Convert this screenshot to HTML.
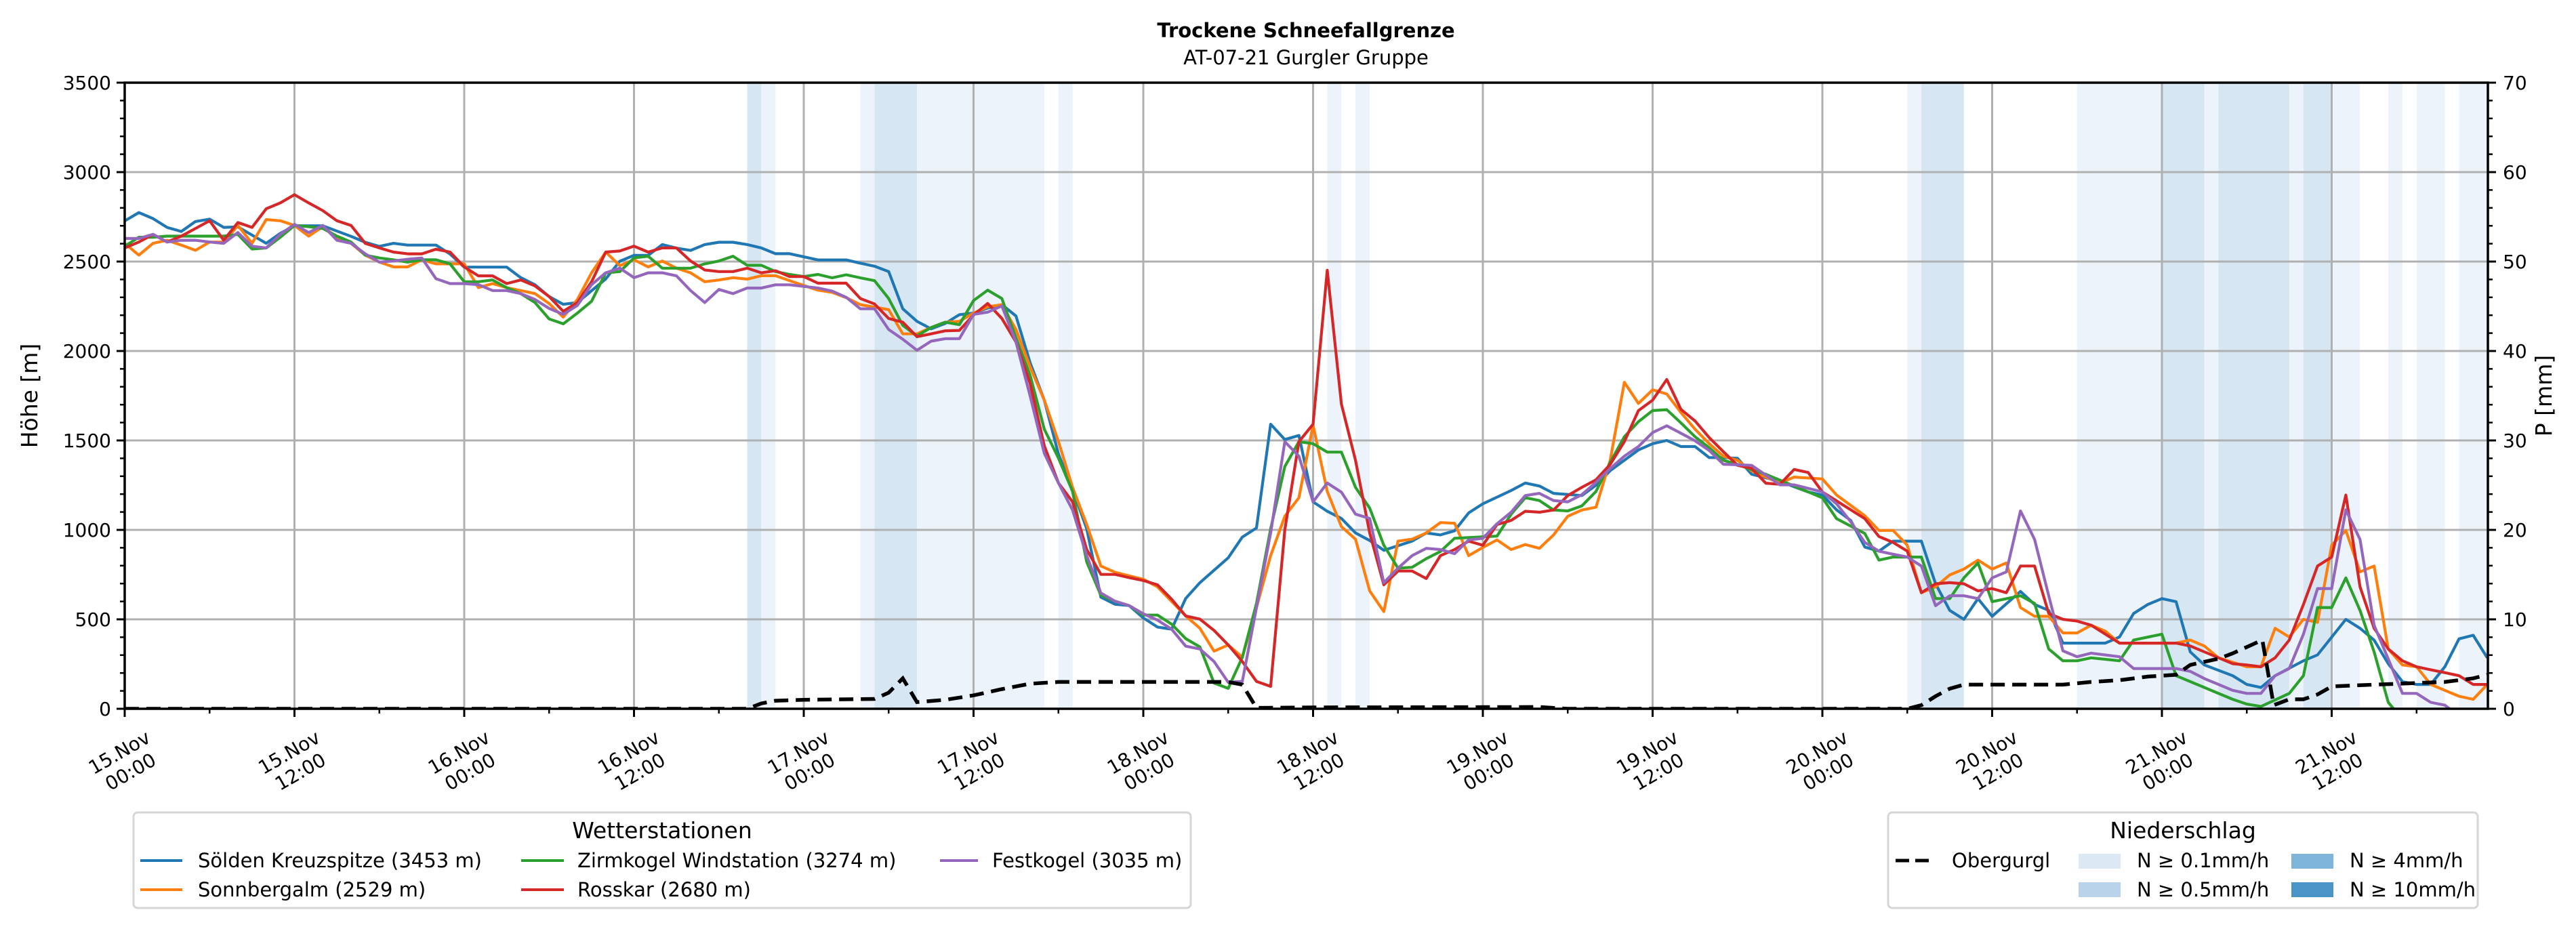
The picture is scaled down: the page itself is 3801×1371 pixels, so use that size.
<!DOCTYPE html>
<html><head><meta charset="utf-8"><title>Trockene Schneefallgrenze</title>
<style>
html,body{margin:0;padding:0;background:#fff;}
svg{display:block;font-family:"DejaVu Sans","Liberation Sans",sans-serif;}
</style></head>
<body>
<svg id="chart" width="3801" height="1371" viewBox="0 0 3801 1371" xmlns="http://www.w3.org/2000/svg">
<defs><clipPath id="plotclip"><rect x="184" y="122" width="3487" height="924"/></clipPath></defs>
<text x="1927" y="55" text-anchor="middle" font-size="29" font-weight="bold">Trockene Schneefallgrenze</text>
<text x="1927" y="95" text-anchor="middle" font-size="29">AT-07-21 Gurgler Gruppe</text>
<g id="bands"></g><g id="grid"></g><g id="series" clip-path="url(#plotclip)"></g><g id="axes"></g>
<text transform="translate(55,584) rotate(-90)" text-anchor="middle" font-size="33">Höhe [m]</text>
<text transform="translate(3765,584) rotate(-90)" text-anchor="middle" font-size="33">P [mm]</text>

<g>
<rect x="197" y="1199" width="1560" height="141" rx="6" fill="#fff" stroke="#d6d6d6" stroke-width="3"/>
<text x="977" y="1237" text-anchor="middle" font-size="33">Wetterstationen</text>
<g><line x1="207" y1="1270" x2="269" y2="1270" stroke="#1f77b4" stroke-width="4"/><text x="292" y="1280" font-size="29">Sölden Kreuzspitze (3453 m)</text></g>
<g><line x1="207" y1="1313" x2="269" y2="1313" stroke="#ff7f0e" stroke-width="4"/><text x="292" y="1323" font-size="29">Sonnbergalm (2529 m)</text></g>
<g><line x1="769" y1="1270" x2="832" y2="1270" stroke="#2ca02c" stroke-width="4"/><text x="852" y="1280" font-size="29">Zirmkogel Windstation (3274 m)</text></g>
<g><line x1="769" y1="1313" x2="832" y2="1313" stroke="#d62728" stroke-width="4"/><text x="852" y="1323" font-size="29">Rosskar (2680 m)</text></g>
<g><line x1="1387" y1="1270" x2="1443" y2="1270" stroke="#9467bd" stroke-width="4"/><text x="1464" y="1280" font-size="29">Festkogel (3035 m)</text></g>
</g>

<g>
<rect x="2786" y="1199" width="870" height="141" rx="6" fill="#fff" stroke="#d6d6d6" stroke-width="3"/>
<text x="3221" y="1237" text-anchor="middle" font-size="33">Niederschlag</text>
<g><line x1="2797" y1="1270" x2="2855" y2="1270" stroke="#000" stroke-width="5" stroke-dasharray="20,9"/><text x="2880" y="1280" font-size="29">Obergurgl</text></g>
<g><rect x="3067" y="1260" width="62" height="22" fill="#dce9f5"/><text x="3153" y="1280" font-size="29">N ≥ 0.1mm/h</text></g>
<g><rect x="3067" y="1302" width="62" height="22" fill="#b9d4ea"/><text x="3153" y="1323" font-size="29">N ≥ 0.5mm/h</text></g>
<g><rect x="3381" y="1260" width="62" height="22" fill="#7fb4db"/><text x="3467" y="1280" font-size="29">N ≥ 4mm/h</text></g>
<g><rect x="3381" y="1302" width="62" height="22" fill="#4a94c8"/><text x="3467" y="1323" font-size="29">N ≥ 10mm/h</text></g>
</g>
</svg>
<script>
const xTickLabels=["15.Nov\n00:00","15.Nov\n12:00","16.Nov\n00:00","16.Nov\n12:00","17.Nov\n00:00","17.Nov\n12:00","18.Nov\n00:00","18.Nov\n12:00","19.Nov\n00:00","19.Nov\n12:00","20.Nov\n00:00","20.Nov\n12:00","21.Nov\n00:00","21.Nov\n12:00"];
const xTickHours=[0,12,24,36,48,60,72,84,96,108,120,132,144,156];
const yTicks=[0,500,1000,1500,2000,2500,3000,3500];
const pTicks=[0,10,20,30,40,50,60,70];
const bandStart=[44,45,52,53,56,66,85,87,126,127,138,144,147,148,153,154,156,160,162,165];
const bandEnd=[45,46,53,56,65,67,86,88,127,130,144,147,148,153,154,156,158,161,164,167];
const bandLevel=[2,1,1,2,1,1,1,1,1,2,1,2,1,2,1,2,1,1,1,1];
const soeldenHours=[0,1,2,3,4,5,6,7,8,10,11,12,14,16,17,18,19,20,22,23,24,27,28,29,30,31,32,33,34,35,36,37,38,39,40,41,42,43,44,45,46,47,49,51,52,53,54,55,56,57,58,59,60,61,62,63,64,65,66,67,68,69,70,71,72,73,74,75,76,78,79,80,81,82,83,84,85,86,87,88,89,91,92,93,94,95,96,98,99,100,101,103,104,105,107,108,109,110,111,112,113,114,115,117,119,120,121,122,123,124,125,127,128,129,130,131,132,134,135,136,137,140,141,142,143,144,145,146,147,149,150,151,152,154,155,157,158,159,160,161,162,163,164,165,166,167];
const soeldenValues=[2727,2774,2740,2691,2668,2724,2737,2691,2694,2602,2658,2700,2700,2641,2608,2585,2602,2592,2592,2542,2469,2469,2410,2370,2304,2261,2271,2337,2403,2502,2535,2535,2595,2575,2562,2595,2608,2608,2595,2576,2544,2544,2509,2509,2491,2474,2444,2236,2166,2124,2154,2203,2212,2240,2259,2196,1934,1725,1424,1227,1006,624,584,577,508,457,445,617,705,844,960,1011,1591,1505,1528,1157,1104,1064,983,941,886,937,983,972,995,1095,1146,1220,1262,1245,1204,1192,1250,1331,1447,1482,1500,1466,1466,1404,1404,1400,1311,1271,1212,1195,1112,1053,904,881,937,937,699,550,500,616,517,656,583,550,367,367,401,533,583,616,599,318,245,185,136,119,185,268,301,500,450,384,252,152,136,136,235,391,411,285];
const sonnHours=[0,1,2,3,4,5,6,7,8,9,10,11,12,13,14,15,16,17,18,19,20,21,22,24,25,26,27,28,29,30,31,32,33,34,35,36,37,38,39,40,41,42,43,44,45,46,47,49,50,51,52,54,55,56,57,58,59,60,61,62,63,64,65,66,67,68,69,70,72,73,75,76,77,78,79,80,81,82,83,84,85,86,87,88,89,90,91,92,93,94,95,96,97,98,99,100,101,102,103,104,105,106,107,108,109,110,111,112,113,114,115,117,118,120,121,123,124,125,126,127,128,129,130,131,132,133,134,135,136,137,138,139,140,141,145,146,147,148,150,151,152,153,154,155,156,157,158,159,160,161,162,163,164,165,166,167];
const sonnValues=[2602,2536,2602,2619,2592,2563,2609,2609,2702,2602,2735,2728,2702,2642,2695,2636,2602,2536,2497,2470,2470,2510,2487,2487,2354,2377,2354,2338,2321,2265,2189,2288,2437,2553,2477,2510,2470,2503,2463,2437,2387,2397,2410,2402,2421,2421,2393,2340,2328,2298,2259,2231,2096,2096,2131,2161,2166,2212,2247,2259,2120,1911,1725,1493,1238,1030,798,763,724,682,519,450,322,357,288,566,856,1076,1180,1586,1215,1018,948,659,543,937,948,983,1041,1037,856,902,944,890,918,897,972,1076,1111,1127,1389,1825,1707,1783,1760,1656,1563,1482,1412,1389,1330,1261,1295,1285,1195,1079,997,997,914,649,682,748,781,831,781,815,566,517,517,424,424,467,434,367,367,384,351,285,235,235,450,401,500,483,914,997,765,798,334,245,235,136,103,70,53,136];
const zirmHours=[0,1,2,3,7,8,9,10,11,12,13,14,15,16,17,18,19,20,21,22,23,24,25,26,27,28,29,30,31,32,33,34,35,36,37,38,40,41,42,43,44,45,46,47,48,49,50,51,52,53,54,55,56,57,58,59,60,61,62,63,64,65,66,67,68,69,70,71,72,73,74,75,76,77,78,79,80,81,82,83,84,85,86,87,88,89,90,91,92,93,94,97,98,99,100,101,102,103,104,105,106,107,108,109,110,111,112,113,114,115,116,118,120,121,123,124,125,127,128,129,130,131,132,134,135,136,137,138,139,141,142,144,145,147,149,150,151,153,154,155,156,157,158,159,160,161,162];
const zirmValues=[2586,2636,2636,2642,2642,2652,2570,2576,2636,2702,2695,2685,2642,2609,2536,2520,2510,2497,2510,2510,2487,2387,2387,2397,2354,2321,2271,2179,2152,2212,2278,2437,2444,2520,2530,2463,2463,2487,2503,2530,2479,2479,2444,2428,2416,2428,2409,2426,2409,2393,2293,2143,2085,2131,2161,2147,2282,2340,2293,2073,1864,1563,1401,1215,821,635,601,577,524,524,473,392,346,144,114,288,589,1006,1354,1493,1482,1435,1435,1238,1122,914,786,791,839,879,953,965,1088,1180,1164,1111,1106,1134,1215,1377,1521,1605,1667,1672,1598,1521,1459,1389,1366,1336,1311,1245,1179,1063,980,831,848,848,616,616,732,815,599,632,589,334,268,268,285,268,384,417,185,119,53,26,13,86,185,566,566,732,550,318,36,-60,-150];
const rossHours=[0,1,2,3,4,5,6,7,8,9,10,11,12,13,14,15,16,17,18,19,20,21,22,23,24,25,26,27,28,29,30,31,32,33,34,35,36,37,38,39,40,41,42,43,44,45,46,47,48,49,51,52,53,54,55,56,57,58,59,60,61,62,63,64,65,66,67,68,69,70,71,72,73,74,75,76,77,78,79,80,81,82,83,84,85,86,87,88,89,90,91,92,93,94,95,96,97,98,99,100,101,102,103,104,105,106,107,108,109,110,111,112,113,114,115,116,117,118,119,120,121,123,124,125,126,127,128,129,130,131,132,133,134,135,136,137,138,139,140,141,145,146,147,149,150,151,152,153,154,155,156,157,158,159,160,161,162,163,164,165,166,167];
const rossValues=[2576,2609,2652,2609,2642,2685,2728,2619,2718,2691,2795,2828,2874,2828,2785,2728,2702,2602,2576,2553,2543,2543,2569,2553,2470,2420,2420,2377,2397,2364,2304,2222,2271,2387,2553,2559,2586,2553,2576,2576,2503,2453,2444,2444,2463,2437,2449,2416,2416,2379,2379,2293,2263,2182,2161,2080,2096,2113,2115,2201,2266,2182,2050,1818,1470,1262,1157,890,751,751,733,717,693,612,519,501,438,357,264,153,125,1000,1493,1591,2451,1703,1389,983,693,770,770,728,856,890,937,914,1030,1053,1104,1099,1111,1192,1238,1280,1366,1493,1667,1725,1841,1674,1609,1516,1437,1361,1344,1261,1255,1338,1321,1212,1162,1063,963,930,881,649,699,705,699,659,672,649,798,798,533,500,490,467,417,367,367,351,318,252,245,235,285,384,583,798,848,1195,682,450,334,268,235,218,202,185,136,136];
const festHours=[0,1,2,3,4,5,6,7,8,9,10,11,12,13,14,15,16,17,18,19,20,21,22,23,24,25,26,27,28,29,30,31,32,33,34,35,36,37,38,39,40,41,42,43,44,45,46,47,49,50,51,52,53,54,55,56,57,58,59,60,61,62,63,64,65,66,67,68,69,70,71,72,73,74,75,76,77,78,79,80,81,82,83,84,85,86,87,88,89,90,91,92,93,94,95,96,97,98,99,100,101,102,103,104,105,106,107,108,109,110,111,112,113,115,117,118,120,121,122,123,124,125,126,127,128,129,130,131,132,133,134,135,136,137,138,139,141,142,145,146,147,148,149,150,151,152,153,154,155,156,157,158,159,160,161,162,163,164,165,166];
const festValues=[2629,2629,2652,2609,2619,2619,2609,2602,2662,2586,2576,2652,2708,2662,2702,2619,2602,2543,2497,2503,2513,2520,2404,2377,2377,2371,2338,2338,2321,2288,2238,2205,2255,2371,2437,2463,2410,2437,2437,2420,2338,2271,2344,2321,2352,2352,2370,2370,2352,2335,2300,2236,2236,2120,2066,2004,2055,2069,2069,2205,2217,2252,2050,1749,1428,1262,1111,856,647,601,577,531,496,445,350,334,264,148,153,566,983,1493,1412,1157,1262,1211,1088,1064,705,786,856,897,890,867,944,953,1034,1099,1192,1204,1164,1157,1197,1266,1343,1412,1466,1544,1582,1540,1498,1444,1367,1361,1252,1252,1212,1146,1046,930,881,864,848,798,576,632,632,616,732,765,1106,947,632,324,291,311,291,225,225,209,169,136,103,86,86,185,225,417,672,672,1112,947,467,278,86,86,36,20,-40,-100];
const precipHours=[0,44,45,46,48,53,54,55,56,58,60,62,64,66,78,79,80,84,100,102,126,127,128,129,130,137,139,141,143,145,146,148,149,150,151.1,151.9,153,154,155,156,159,164,166,167];
const precipValues=[0,0,0.6,0.9,1.0,1.1,1.8,3.4,0.75,1.0,1.5,2.2,2.8,3.0,3.0,2.7,0.1,0.15,0.2,0,0,0.4,1.4,2.25,2.7,2.7,3.0,3.2,3.6,3.8,4.9,5.6,6.2,6.9,7.7,0.4,1.06,1.06,1.6,2.5,2.7,3.0,3.4,3.8];

const NS="http://www.w3.org/2000/svg";
const L=184,R=3671,T=122,B=1046,PXH=20.875;
function xs(h){return L+h*PXH;}
function ys(v){return B-v*(B-T)/3500;}
function yp(p){return B-p*(B-T)/70;}
function mk(tag,attrs,parent){const e=document.createElementNS(NS,tag);for(const k in attrs)e.setAttribute(k,attrs[k]);parent.appendChild(e);return e;}
const gB=document.getElementById('bands'),gG=document.getElementById('grid'),gS=document.getElementById('series'),gA=document.getElementById('axes');

for(let i=0;i<bandStart.length;i++){
  const r=mk('rect',{x:xs(bandStart[i]),y:T,width:xs(bandEnd[i])-xs(bandStart[i]),height:B-T,fill:bandLevel[i]===2?'#d6e6f3':'#edf3fa'},gB);
  
  
}
for(const v of yTicks){
  const l=mk('line',{x1:L,x2:R,y1:ys(v),y2:ys(v),stroke:'#b0b0b0','stroke-width':3},gG);
  
  
}
for(const h of xTickHours){
  const l=mk('line',{x1:xs(h),x2:xs(h),y1:T,y2:B,stroke:'#b0b0b0','stroke-width':3},gG);
  
  
}
function series(hours,vals,color,name){
  let d='';
  for(let i=0;i<hours.length;i++)d+=(i?'L':'M')+xs(hours[i]).toFixed(1)+','+ys(vals[i]).toFixed(1);
  const p=mk('path',{d:d,fill:'none',stroke:color,'stroke-width':4.2,'stroke-linejoin':'round'},gS);
  
  
}
series(soeldenHours,soeldenValues,'#1f77b4','soelden-line');
series(sonnHours,sonnValues,'#ff7f0e','sonnbergalm-line');
series(zirmHours,zirmValues,'#2ca02c','zirmkogel-line');
series(rossHours,rossValues,'#d62728','rosskar-line');
series(festHours,festValues,'#9467bd','festkogel-line');
let pd='';
for(let i=0;i<precipHours.length;i++)pd+=(i?'L':'M')+xs(precipHours[i]).toFixed(1)+','+yp(precipValues[i]).toFixed(1);
const pp=mk('path',{d:pd,fill:'none',stroke:'#000','stroke-width':5.5,'stroke-dasharray':'21,11'},gS);



const frame=mk('rect',{x:L,y:T,width:R-L,height:B-T,fill:'none',stroke:'#000','stroke-width':3.5},gA);


for(let v=0;v<=3500;v+=100){
  const major=v%500===0;
  mk('line',{x1:L,x2:L-(major?12:7),y1:ys(v),y2:ys(v),stroke:'#000','stroke-width':major?3:2.5},gA);
}
for(const v of yTicks){
  const t=mk('text',{x:L-20,y:ys(v)+10,'text-anchor':'end','font-size':28},gA);
  t.textContent=String(v);
  
  
}
for(let p=0;p<=70;p+=2){
  const major=p%10===0;
  mk('line',{x1:R,x2:R+(major?12:7),y1:yp(p),y2:yp(p),stroke:'#000','stroke-width':major?3:2.5},gA);
}
for(const p of pTicks){
  const t=mk('text',{x:R+22,y:yp(p)+10,'text-anchor':'start','font-size':28},gA);
  t.textContent=String(p);
  
  
}
for(let h=0;h<=167;h+=6){
  const major=h%12===0;
  mk('line',{x1:xs(h),x2:xs(h),y1:B,y2:B+(major?12:7),stroke:'#000','stroke-width':major?3:2.5},gA);
}
for(let i=0;i<xTickHours.length;i++){
  const g=mk('g',{transform:'translate('+xs(xTickHours[i])+',1124) rotate(-30)'},gA);
  
  
  const parts=xTickLabels[i].split('\n');
  const t1=mk('text',{x:0,y:-6,'text-anchor':'middle','font-size':28},g);t1.textContent=parts[0];
  const t2=mk('text',{x:0,y:27,'text-anchor':'middle','font-size':28},g);t2.textContent=parts[1];
}
</script>
</body></html>
